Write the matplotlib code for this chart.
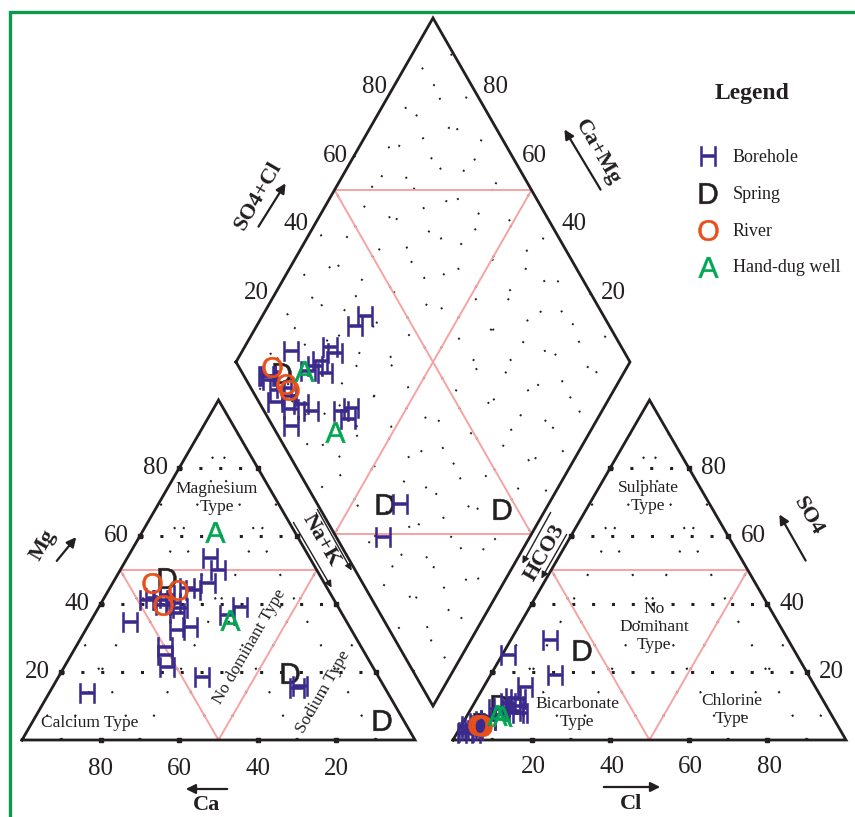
"""
Piper trilinear diagram of water samples (borehole, spring, river, hand-dug well).
Cations in the left triangle, anions in the right one, projected into the diamond.
"""

import numpy as np
import matplotlib
matplotlib.use("Agg")
import matplotlib.pyplot as plt

plt.rcParams["mathtext.fontset"] = "custom"
plt.rcParams["mathtext.sf"] = "Liberation Sans"

# ── sample chemistry (% meq) ────────────────────────────────────────────
# boreholes
BH_CA   = [76.6, 55.2, 47.6, 45.8, 44.3, 41.8, 44.3, 41.4, 35.7, 41.9, 40.4, 25.4, 34.4,
           49.9, 44.4, 51.1, 29.6, 25.1, 40.7, 52.3, 29.4, 25.0, 44.9, 22.4, 21.3]
BH_MG   = [13.8, 34.7, 41.2, 41.8, 41.2, 42.6, 39.7, 40.3, 44.7, 37.4, 38.8, 53.5, 44.1,
           27.4, 32.4, 25.0, 46.2, 50.0, 33.2, 21.5, 36.8, 39.1, 18.5, 15.3, 15.9]
BH_NA   = [9.6, 10.1, 11.2, 12.4, 14.5, 15.6, 16.0, 18.3, 19.6, 20.7, 20.8, 21.1, 21.5,
           22.7, 23.2, 23.9, 24.2, 24.9, 26.1, 26.2, 33.8, 35.9, 36.6, 62.3, 62.8]
BH_HCO3 = [94.5, 94.0, 94.0, 84.5, 93.5, 96.0, 91.5, 91.5, 83.0, 93.0, 80.5, 78.5, 74.0,
           89.5, 95.5, 73.5, 79.0, 64.5, 60.5, 88.0, 80.5, 77.5, 80.0, 79.0, 88.0]
BH_SO4  = [3.0, 2.0, 4.0, 9.0, 3.5, 2.0, 5.0, 4.5, 9.5, 3.0, 11.0, 12.5, 15.5,
           5.5, 2.5, 25.0, 10.0, 19.0, 29.5, 6.0, 8.5, 12.0, 8.0, 8.0, 6.0]
BH_CL   = [2.5, 4.0, 2.0, 6.5, 3.0, 2.0, 3.5, 4.0, 7.5, 4.0, 8.5, 9.0, 10.5,
           5.0, 2.0, 1.5, 11.0, 16.5, 10.0, 6.0, 11.0, 10.5, 12.0, 13.0, 6.0]

# springs
SP_CA   = [39.3, 22.0, 5.4]
SP_MG   = [47.6, 19.7, 5.9]
SP_NA   = [13.1, 58.3, 88.7]
SP_HCO3 = [90.0, 82.9, 53.9]
SP_SO4  = [5.0, 10.3, 26.5]
SP_CL   = [5.0, 6.8, 19.6]

# rivers
RV_CA   = [43.8, 38.3, 44.3]
RV_MG   = [46.2, 44.1, 39.7]
RV_NA   = [10.0, 17.6, 16.0]
RV_HCO3 = [91.5, 90.5, 90.5]
RV_SO4  = [4.5, 4.5, 4.0]
RV_CL   = [4.0, 5.0, 5.5]

# hand-dug wells
HD_CA   = [20.3, 29.4]
HD_MG   = [61.2, 35.3]
HD_NA   = [18.5, 35.3]
HD_HCO3 = [84.0, 85.0]
HD_SO4  = [7.0, 7.5]
HD_CL   = [9.0, 7.5]

TICKS = [20, 40, 60, 80]

# ── layout (pixels) ─────────────────────────────────────────────────────
SIDE   = 393
HGT    = 340
BASE   = 740
LT_X0  = 22
RT_X0  = 453
D_LEFT = np.array([236.0, 362.0])
D_TOP  = np.array([433.0, 18.0])
D_BOT  = np.array([433.0, 706.0])
D_RIGHT = D_TOP + D_BOT - D_LEFT

INK   = "#231f20"
PINK  = "#f5a3a3"
GREEN = "#0b9a4c"
SERIF = "Liberation Serif"

STYLES = {
    "Borehole":      dict(marker=r"$\mathsf{H}$", color="#3b2a8c"),
    "Spring":        dict(marker=r"$\mathsf{D}$", color="#231f20"),
    "River":         dict(marker=r"$\mathsf{O}$", color="#e8501a"),
    "Hand-dug well": dict(marker=r"$\mathsf{A}$", color="#00a651"),
}


def tri_xy(x0, a, b, c):
    """Ternary -> pixel. a = bottom-left corner, b = apex, c = bottom-right."""
    a, b, c = (np.asarray(v, float) for v in (a, b, c))
    t = a + b + c
    x = x0 + SIDE * (c + b / 2) / t
    y = BASE - HGT * b / t
    return x, y


def diamond_xy(nk, cs):
    """nk = Na+K fraction, cs = SO4+Cl fraction."""
    nk = np.asarray(nk, float)[..., None]
    cs = np.asarray(cs, float)[..., None]
    p = D_LEFT + cs * (D_TOP - D_LEFT) + nk * (D_BOT - D_LEFT)
    return p[..., 0], p[..., 1]


def dotted(ax, p, q, gap, lw=1.5, offset=0):
    ax.plot([p[0], q[0]], [p[1], q[1]], color=INK, lw=lw,
            linestyle=(offset, (1, gap)), dash_capstyle="butt", zorder=1)


def draw_frames(ax):
    # triangles
    for x0 in (LT_X0, RT_X0):
        xs = [x0, x0 + SIDE, x0 + SIDE / 2, x0]
        ys = [BASE, BASE, BASE - HGT, BASE]
        ax.plot(xs, ys, color=INK, lw=2.0, zorder=3, solid_joinstyle="miter")
    # diamond
    pts = np.array([D_LEFT, D_TOP, D_RIGHT, D_BOT, D_LEFT])
    ax.plot(pts[:, 0], pts[:, 1], color=INK, lw=2.0, zorder=3, solid_joinstyle="miter")


def draw_grids(ax):
    for x0 in (LT_X0, RT_X0):
        # dense rows
        for v in TICKS:
            p = tri_xy(x0, 100 - v, v, 0)
            q = tri_xy(x0, 0, v, 100 - v)
            dotted(ax, p, q, 5.5, lw=2.2)
        # sparse diagonals
        for v in [10, 30, 50, 70, 90]:
            dotted(ax, tri_xy(x0, 100 - v, 0, v), tri_xy(x0, 0, 100 - v, v), 12)
            dotted(ax, tri_xy(x0, v, 0, 100 - v), tri_xy(x0, v, 100 - v, 0), 12)
        # edge ticks
        for v in TICKS:
            for p in (tri_xy(x0, 100 - v, v, 0), tri_xy(x0, 0, v, 100 - v),
                      tri_xy(x0, 100 - v, 0, v)):
                ax.plot(*p, "s", ms=2.2, color=INK, zorder=3)
    # diamond field
    for k in range(1, 10):
        f = k / 10
        dotted(ax, diamond_xy(0, f), diamond_xy(1, f), 17, lw=1.4, offset=k * 3)
        dotted(ax, diamond_xy(f, 0), diamond_xy(f, 1), 17, lw=1.4, offset=9 + k * 5)


def draw_fields(ax):
    kw = dict(color=PINK, lw=1.4, zorder=2)
    for x0 in (LT_X0, RT_X0):
        p1 = tri_xy(x0, 50, 50, 0)
        p2 = tri_xy(x0, 0, 50, 50)
        p3 = tri_xy(x0, 50, 0, 50)
        ax.plot([p1[0], p2[0], p3[0], p1[0]], [p1[1], p2[1], p3[1], p1[1]], **kw)
    ul, ur = diamond_xy(0, 0.5), diamond_xy(0.5, 1)
    ll, lr = diamond_xy(0.5, 0), diamond_xy(1, 0.5)
    for p, q in ((ul, ur), (ll, lr), (ul, lr), (ur, ll)):
        ax.plot([p[0], q[0]], [p[1], q[1]], **kw)


def draw_labels(ax):
    num = dict(fontsize=18, family=SERIF, color=INK, ha="center", va="center")
    bold = dict(fontsize=16, family=SERIF, color=INK, fontweight="bold",
                ha="center", va="center")
    reg = dict(fontsize=12.5, family=SERIF, color=INK, ha="center", va="center",
               linespacing=1.15)

    for v in TICKS:
        # cation triangle
        x, y = tri_xy(LT_X0, 100 - v, v, 0)
        ax.text(x - 24, y, str(v), **num)
        x, y = tri_xy(LT_X0, v, 0, 100 - v)
        ax.text(x, y + 29, str(v), **num)
        # anion triangle
        x, y = tri_xy(RT_X0, 0, v, 100 - v)
        ax.text(x + 25, y, str(v), **num)
        x, y = tri_xy(RT_X0, 100 - v, 0, v)
        ax.text(x + 2, y + 27, str(v), **num)
        # diamond
        x, y = diamond_xy(0, v / 100)
        ax.text(x - 19, y, str(v), **num)
        x, y = diamond_xy(1 - v / 100, 1)
        ax.text(x + 23, y, str(v), **num)

    arrow = dict(arrowstyle="-|>", color=INK, lw=1.6, mutation_scale=14)
    ax.annotate("", xy=(78, 535), xytext=(55, 563), arrowprops=arrow)
    ax.text(43, 545, "Mg", rotation=60, **bold)
    ax.annotate("", xy=(183, 789), xytext=(230, 789), arrowprops=arrow)
    ax.text(206, 805, "Ca", **bold)
    ax.annotate("", xy=(663, 787), xytext=(601, 787), arrowprops=arrow)
    ax.text(631, 804, "Cl", **bold)
    ax.annotate("", xy=(778, 512), xytext=(807, 563), arrowprops=arrow)
    ax.text(808, 516, "SO4", rotation=-60, **bold)
    ax.annotate("", xy=(287, 181), xytext=(257, 229), arrowprops=arrow)
    ax.text(258, 196, "SO4+Cl", rotation=60, **bold)
    ax.annotate("", xy=(563, 127), xytext=(602, 192), arrowprops=arrow)
    ax.text(598, 152, "Ca+Mg", rotation=-60, **bold)

    thin = dict(arrowstyle="-|>", color=INK, lw=1.0, mutation_scale=10)
    ax.annotate("", xy=(333, 590), xytext=(292, 520), arrowprops=thin)
    ax.annotate("", xy=(353, 573), xytext=(316, 507), arrowprops=thin)
    ax.text(321, 540, "Na+K", rotation=-60, **bold)
    ax.annotate("", xy=(521, 566), xytext=(552, 510), arrowprops=thin)
    ax.annotate("", xy=(540, 581), xytext=(568, 532), arrowprops=thin)
    ax.text(545, 553, "HCO3", rotation=60, **bold)

    ax.text(217, 498, "Magnesium\nType", **reg)
    ax.text(90, 723, "Calcium Type", **reg)
    ax.text(250, 647, "No dominant Type", rotation=60, **reg)
    ax.text(323, 692, "Sodium Type", rotation=60, **reg)
    ax.text(648, 497, "Sulphate\nType", **reg)
    ax.text(654, 627, "No\nDominant\nType", **reg)
    ax.text(577, 713, "Bicarbonate\nType", **reg)
    ax.text(732, 710, "Chlorine\nType", **reg)


def plot_group(ax, name, ca, mg, na, hco3, so4, cl, z):
    st = STYLES[name]
    kw = dict(marker=st["marker"], c=st["color"], edgecolors=st["color"],
              s=220, linewidths=0.4, zorder=z)
    ax.scatter(*tri_xy(LT_X0, ca, mg, na), **kw)
    ax.scatter(*tri_xy(RT_X0, hco3, so4, cl), **kw)
    cat = np.asarray(ca) + np.asarray(mg) + np.asarray(na)
    ani = np.asarray(hco3) + np.asarray(so4) + np.asarray(cl)
    nk = np.asarray(na) / cat
    cs = (np.asarray(so4) + np.asarray(cl)) / ani
    ax.scatter(*diamond_xy(nk, cs), **kw)


def draw_legend(ax):
    ax.text(752, 93, "Legend", fontsize=17, family=SERIF, fontweight="bold",
            color=INK, ha="center", va="center")
    for i, name in enumerate(STYLES):
        y = 156 + i * 37
        st = STYLES[name]
        ax.scatter([708], [y], marker=st["marker"], c=st["color"],
                   edgecolors=st["color"], s=220, linewidths=0.4, zorder=5)
        ax.text(733, y + 1, name, fontsize=13, family=SERIF, color=INK,
                ha="left", va="center")


def main():
    fig = plt.figure(figsize=(8.55, 8.17), dpi=100)
    ax = fig.add_axes([0, 0, 1, 1])
    ax.set_xlim(0, 855)
    ax.set_ylim(817, 0)
    ax.axis("off")

    # green page frame
    ax.plot([10, 10, 855], [817, 12, 12], color=GREEN, lw=2.4, zorder=0,
            solid_joinstyle="miter")

    draw_grids(ax)
    draw_fields(ax)
    draw_frames(ax)
    draw_labels(ax)

    plot_group(ax, "Spring", SP_CA, SP_MG, SP_NA, SP_HCO3, SP_SO4, SP_CL, 4)
    plot_group(ax, "Borehole", BH_CA, BH_MG, BH_NA, BH_HCO3, BH_SO4, BH_CL, 5)
    plot_group(ax, "River", RV_CA, RV_MG, RV_NA, RV_HCO3, RV_SO4, RV_CL, 6)
    plot_group(ax, "Hand-dug well", HD_CA, HD_MG, HD_NA, HD_HCO3, HD_SO4, HD_CL, 7)

    draw_legend(ax)

    fig.savefig("out.png", dpi=100)
    plt.close(fig)


if __name__ == "__main__":
    main()
